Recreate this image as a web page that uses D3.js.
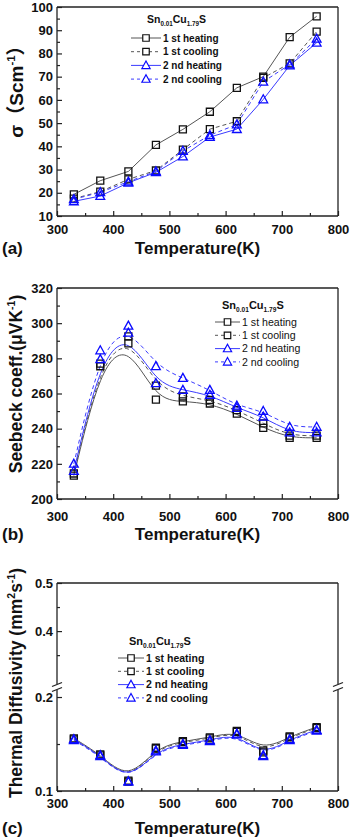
<!DOCTYPE html>
<html>
<head>
<meta charset="utf-8">
<script src="https://cdn.jsdelivr.net/npm/d3@7"></script>
<style>
  body { margin: 0; background: #fff; }
  svg { display: block; font-family: "Liberation Sans", Arial, "Noto Sans CJK SC", sans-serif; }
</style>
</head>
<body>
<svg id="chart"></svg>
<script>
// shared x values (K) and legend labels
const temps = [330, 377, 427, 476, 524, 572, 620, 667, 714, 762];
const seriesLabels = ["1 st heating", "1 st cooling", "2 nd heating", "2 nd cooling"];
const xTicks = [300, 400, 500, 600, 700, 800];
const xMinorTicks = [350, 450, 550, 650, 750];

// (a) conductivity, S/cm
const sigmaHeat1 = [19.3, 25.2, 29.2, 40.6, 47.3, 54.9, 65.2, 70.0, 87.0, 96.0];
const sigmaCool1 = [17.5, 20.5, 25.8, 29.6, 38.6, 47.4, 50.8, 69.5, 75.7, 89.4];
const sigmaHeat2 = [16.3, 18.6, 24.3, 28.8, 35.6, 44.0, 47.4, 60.2, 74.8, 84.6];
const sigmaCool2 = [17.2, 20.2, 24.8, 29.2, 38.0, 44.8, 49.4, 67.8, 75.2, 86.3];
const sigmaTicks = [10, 20, 30, 40, 50, 60, 70, 80, 90, 100];
const sigmaMinorTicks = [15, 25, 35, 45, 55, 65, 75, 85, 95];

// (b) seebeck, uV/K
const seebeckHeat1 = [213.3, 275.5, 288.5, 256.5, 255.5, 254.3, 248.5, 240.5, 234.8, 234.8];
const seebeckCool1 = [214.5, 277.0, 292.5, 264.5, 258.3, 256.3, 250.5, 243.0, 236.0, 236.0];
const seebeckHeat2 = [216.0, 279.5, 294.5, 265.8, 262.0, 259.2, 251.8, 246.8, 237.8, 237.8];
const seebeckCool2 = [220.0, 284.5, 298.5, 275.5, 268.8, 262.0, 253.0, 250.0, 241.0, 241.0];
const seebeckTicks = [200, 220, 240, 260, 280, 300, 320];
const seebeckMinorTicks = [210, 230, 250, 270, 290, 310];

// (c) thermal diffusivity, mm2/s
const diffHeat1 = [0.156, 0.139, 0.111, 0.146, 0.153, 0.157, 0.164, 0.143, 0.158, 0.168];
const diffCool1 = [0.155, 0.138, 0.110, 0.145, 0.152, 0.156, 0.163, 0.141, 0.157, 0.167];
const diffHeat2 = [0.155, 0.138, 0.110, 0.143, 0.150, 0.154, 0.161, 0.138, 0.155, 0.165];
const diffCool2 = [0.154, 0.137, 0.110, 0.142, 0.149, 0.153, 0.160, 0.137, 0.154, 0.164];
const diffTicks = [0.1, 0.2, 0.4, 0.5];
const diffMinorTicks = [0.15, 0.35, 0.45];

// series look: black squares then blue triangles
const styles = [
  { marker: "#111", line: "#555", dash: null, shape: "square" },
  { marker: "#111", line: "#555", dash: "4,3", shape: "square" },
  { marker: "#0a0aff", line: "#3b3bff", dash: null, shape: "triangle" },
  { marker: "#0a0aff", line: "#3b3bff", dash: "4,3", shape: "triangle" },
];

const W = 350, H = 839;
const plotLeft = 57, plotRight = 338;

const svg = d3.select("#chart").attr("width", W).attr("height", H);

const x = d3.scaleLinear().domain([300, 800]).range([plotLeft, plotRight]);

function markerPath(shape, s) {
  if (shape === "square") {
    const h = s / 2;
    return `M${-h},${-h}H${h}V${h}H${-h}Z`;
  }
  const w = s * 1.1, h = s;
  return `M0,${-h * 0.58}L${w / 2},${h * 0.42}L${-w / 2},${h * 0.42}Z`;
}

function addTitle(sel, size) {
  sel.append("tspan").text("Sn");
  sel.append("tspan").attr("font-size", size * 0.6).attr("dy", size * 0.28).text("0.01");
  sel.append("tspan").attr("dy", -size * 0.28).text("Cu");
  sel.append("tspan").attr("font-size", size * 0.6).attr("dy", size * 0.28).text("1.79");
  sel.append("tspan").attr("dy", -size * 0.28).text("S");
}

function drawPanel(p) {
  const g = svg.append("g");
  const y = d3.scaleLinear().domain(p.yDomain).range(p.yRange);
  const bottom = p.yRange[0];
  const top = p.yRange[p.yRange.length - 1];

  // x axis ticks (inward)
  g.append("g")
    .attr("transform", `translate(0,${bottom})`)
    .call(d3.axisBottom(x).tickValues(xMinorTicks).tickSize(-3).tickFormat(""));
  g.append("g")
    .attr("class", "x-axis")
    .attr("transform", `translate(0,${bottom})`)
    .call(d3.axisBottom(x).tickValues(xTicks).tickSize(-5).tickPadding(p.xPad).tickFormat(d3.format("d")));

  // y axis ticks (inward)
  g.append("g")
    .attr("transform", `translate(${plotLeft},0)`)
    .call(d3.axisLeft(y).tickValues(p.minorTicks).tickSize(-3).tickFormat(""));
  g.append("g")
    .attr("class", "y-axis")
    .attr("transform", `translate(${plotLeft},0)`)
    .call(d3.axisLeft(y).tickValues(p.ticks).tickSize(-5).tickPadding(4).tickFormat(p.fmt));

  g.selectAll(".domain").remove();
  g.selectAll(".tick line").attr("stroke", "#222").attr("stroke-width", 1.2);
  g.selectAll(".tick text")
    .attr("font-size", 13)
    .attr("font-weight", "bold")
    .attr("fill", "#111")
    .attr("font-family", "Liberation Sans, Arial, sans-serif");

  // frame, with a gap where the axis is broken
  const frame = g.append("g").attr("stroke", "#222").attr("stroke-width", 1.3).attr("fill", "none");
  frame.append("line").attr("x1", plotLeft).attr("x2", plotRight).attr("y1", top).attr("y2", top);
  frame.append("line").attr("x1", plotLeft).attr("x2", plotRight).attr("y1", bottom).attr("y2", bottom);
  const segs = p.breakAt ? [[bottom, p.breakAt + 3], [p.breakAt - 3, top]] : [[bottom, top]];
  segs.forEach((s) => {
    [plotLeft, plotRight].forEach((xx) => {
      frame.append("line").attr("x1", xx).attr("x2", xx).attr("y1", s[0]).attr("y2", s[1]);
    });
  });
  if (p.breakAt) {
    [plotLeft, plotRight].forEach((xx) => {
      [-2.5, 2.5].forEach((o) => {
        frame.append("line")
          .attr("x1", xx - 5).attr("y1", p.breakAt + o + 2)
          .attr("x2", xx + 5).attr("y2", p.breakAt + o - 2);
      });
    });
  }

  // series lines
  const line = d3.line()
    .x((d, i) => x(temps[i]))
    .y((d) => y(d))
    .curve(p.curve);

  p.series.forEach((vals, k) => {
    const st = styles[k];
    g.append("path")
      .datum(vals)
      .attr("d", line)
      .attr("fill", "none")
      .attr("stroke", st.line)
      .attr("stroke-width", 1)
      .attr("stroke-dasharray", st.dash);
  });

  // markers
  p.series.forEach((vals, k) => {
    const st = styles[k];
    g.append("g")
      .selectAll("path")
      .data(vals)
      .join("path")
      .attr("transform", (d, i) => `translate(${x(temps[i])},${y(d)})`)
      .attr("d", markerPath(st.shape, st.shape === "square" ? 7 : 8))
      .attr("fill", "none")
      .attr("stroke", st.marker)
      .attr("stroke-width", 1.3);
  });

  // legend
  const L = p.legend;
  const title = g.append("text")
    .attr("x", L.titleX)
    .attr("y", L.titleY)
    .attr("font-size", L.titleSize)
    .attr("font-weight", "bold")
    .attr("fill", "#111");
  addTitle(title, L.titleSize);

  seriesLabels.forEach((lab, k) => {
    const st = styles[k];
    const cy = L.rowY + k * L.gap;
    const row = g.append("g");
    row.append("line")
      .attr("x1", L.x).attr("x2", L.x + L.len)
      .attr("y1", cy).attr("y2", cy)
      .attr("stroke", st.line)
      .attr("stroke-width", 1)
      .attr("stroke-dasharray", st.dash ? "3,3" : null);
    row.append("path")
      .attr("transform", `translate(${L.x + L.len / 2},${cy})`)
      .attr("d", markerPath(st.shape, st.shape === "square" ? 6.5 : 7.5))
      .attr("fill", "#fff")
      .attr("stroke", st.marker)
      .attr("stroke-width", 1.2);
    row.append("text")
      .attr("x", L.x + L.len + 2)
      .attr("y", cy + L.size * 0.36)
      .attr("font-size", L.size)
      .attr("font-weight", L.weight)
      .attr("fill", "#111")
      .text(lab);
  });

  // axis titles and panel letter
  g.append("text")
    .attr("x", (plotLeft + plotRight) / 2)
    .attr("y", p.xTitleY)
    .attr("text-anchor", "middle")
    .attr("font-size", 17)
    .attr("font-weight", "bold")
    .attr("fill", "#111")
    .text("Temperature(K)");

  g.append("text")
    .attr("x", 2)
    .attr("y", p.xTitleY)
    .attr("font-size", 17)
    .attr("font-weight", "bold")
    .attr("fill", "#111")
    .text(p.letter);

  const yt = g.append("text")
    .attr("transform", `translate(${p.yTitleX},${p.yTitleY}) rotate(-90)`)
    .attr("text-anchor", "middle")
    .attr("font-size", p.yTitleSize)
    .attr("font-weight", "bold")
    .attr("fill", "#111");
  p.yTitle.forEach((part) => {
    const t = yt.append("tspan").text(part.t);
    if (part.sup) {
      t.attr("font-size", p.yTitleSize * 0.6).attr("dy", -p.yTitleSize * 0.4);
    } else if (part.after) {
      t.attr("dy", p.yTitleSize * 0.4);
    }
  });
}

drawPanel({
  letter: "(a)",
  yDomain: [10, 100],
  yRange: [216, 7],
  ticks: sigmaTicks,
  minorTicks: sigmaMinorTicks,
  fmt: d3.format("d"),
  xPad: 8.5,
  curve: d3.curveLinear,
  series: [sigmaHeat1, sigmaCool1, sigmaHeat2, sigmaCool2],
  legend: { titleX: 147, titleY: 23, titleSize: 10.5, rowY: 38, gap: 13.7, x: 131, len: 30, size: 10, weight: "bold" },
  xTitleY: 254,
  yTitleX: 23,
  yTitleY: 87,
  yTitleSize: 19,
  yTitle: [{ t: "σ（Scm" }, { t: "-1", sup: true }, { t: "）", after: true }],
});

drawPanel({
  letter: "(b)",
  yDomain: [200, 320],
  yRange: [499, 288],
  ticks: seebeckTicks,
  minorTicks: seebeckMinorTicks,
  fmt: d3.format("d"),
  xPad: 13,
  curve: d3.curveBasis,
  series: [seebeckHeat1, seebeckCool1, seebeckHeat2, seebeckCool2],
  legend: { titleX: 222, titleY: 309, titleSize: 11, rowY: 322, gap: 13.3, x: 215, len: 25, size: 10.6, weight: "normal" },
  xTitleY: 540,
  yTitleX: 22,
  yTitleY: 384,
  yTitleSize: 17.5,
  yTitle: [{ t: "Seebeck coeff.(μVK" }, { t: "-1", sup: true }, { t: ")", after: true }],
});

drawPanel({
  letter: "(c)",
  yDomain: [0.1, 0.208, 0.29, 0.5],
  yRange: [791, 689.5, 684, 583],
  breakAt: 687,
  ticks: diffTicks,
  minorTicks: diffMinorTicks,
  fmt: d3.format(".1f"),
  xPad: 7.5,
  curve: d3.curveBasis,
  series: [diffHeat1, diffCool1, diffHeat2, diffCool2],
  legend: { titleX: 129, titleY: 645, titleSize: 11, rowY: 658, gap: 13.3, x: 118, len: 26, size: 10.5, weight: "bold" },
  xTitleY: 834,
  yTitleX: 22,
  yTitleY: 683,
  yTitleSize: 17.5,
  yTitle: [
    { t: "Thermal Diffusivity (mm" }, { t: "2", sup: true }, { t: "s", after: true },
    { t: "-1", sup: true }, { t: ")", after: true },
  ],
});
</script>
</body>
</html>
